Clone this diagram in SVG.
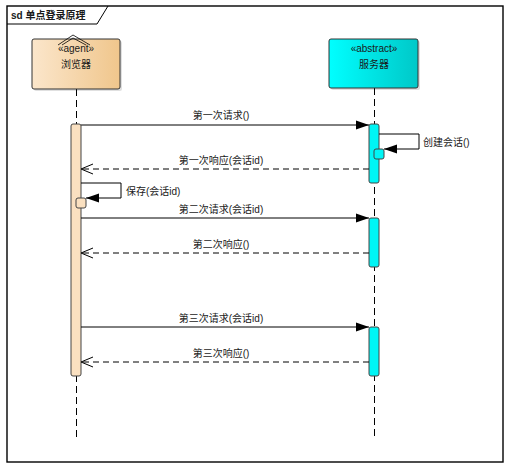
<svg xmlns="http://www.w3.org/2000/svg" width="510" height="467" viewBox="0 0 510 467">
<style>
text{font-family:"Liberation Sans","Noto Sans CJK SC",sans-serif;font-size:10px;fill:#1a1a1a}
.mid{text-anchor:middle}
.life{stroke:#000;stroke-width:1;stroke-dasharray:7,4;fill:none}
.msg{stroke:#000;stroke-width:1;fill:none}
.ret{stroke:#000;stroke-width:1;fill:none;stroke-dasharray:6,4}
.shadow{fill:#000;opacity:0.12}
</style>
<defs>
<linearGradient id="gAgent" x1="0" y1="0" x2="1" y2="0">
<stop offset="0" stop-color="#fbe6cb"/>
<stop offset="1" stop-color="#f0c68c"/>
</linearGradient>
<linearGradient id="gServer" x1="0" y1="0" x2="1" y2="0">
<stop offset="0" stop-color="#00ffff"/>
<stop offset="1" stop-color="#00c8c8"/>
</linearGradient>
<marker id="filled" markerUnits="userSpaceOnUse" markerWidth="13" markerHeight="10" refX="13" refY="5" orient="auto">
<path d="M0,0.5 L13,5 L0,9.5 z" fill="#000"/>
</marker>
<marker id="open" markerUnits="userSpaceOnUse" markerWidth="14" markerHeight="12" refX="13" refY="6" orient="auto">
<path d="M1,1 L13,6 L1,11" fill="none" stroke="#000" stroke-width="1"/>
</marker>
</defs>
<rect width="510" height="467" fill="#fff"/>
<g id="frame">
<rect x="7" y="6" width="496" height="456" fill="none" stroke="#000" stroke-width="1.4"/>
<path d="M7,24 H97 L108,6" fill="none" stroke="#000" stroke-width="1"/>
<text x="11" y="19" style="font-weight:bold">sd 单点登录原理</text>
</g>
<g id="lifelines">
<line class="life" x1="76.5" y1="89" x2="76.5" y2="437"/>
<line class="life" x1="374.5" y1="88" x2="374.5" y2="437"/>
</g>
<g id="browser">
<rect class="shadow" x="34" y="41" width="88" height="50" rx="2"/>
<rect x="32" y="39" width="88" height="50" rx="2" fill="url(#gAgent)" stroke="#333" stroke-width="1"/>
<path d="M58,45 L73,35 L90,45 M62,45 L73,38 L86,45" fill="none" stroke="#000" stroke-width="0.8"/>
<text class="mid" x="76" y="52">«agent»</text>
<text class="mid" x="76" y="68">浏览器</text>
</g>
<g id="server">
<rect class="shadow" x="331" y="41" width="89" height="49" rx="2"/>
<rect x="329" y="39" width="89" height="49" rx="2" fill="url(#gServer)" stroke="#333" stroke-width="1"/>
<text class="mid" x="374" y="52">«abstract»</text>
<text class="mid" x="374" y="68">服务器</text>
</g>
<g id="activations">
<rect x="71" y="124" width="10" height="252" rx="2" fill="#fae0c0" stroke="#444" stroke-width="1"/>
<rect x="369" y="124" width="10" height="59" rx="2" fill="#00f5f5" stroke="#444" stroke-width="1"/>
<rect x="369" y="218" width="10" height="49" rx="2" fill="#00f5f5" stroke="#444" stroke-width="1"/>
<rect x="369" y="327" width="10" height="49" rx="2" fill="#00f5f5" stroke="#444" stroke-width="1"/>
<rect x="374" y="149" width="10" height="10" rx="2" fill="#00f5f5" stroke="#444" stroke-width="1"/>
<rect x="76" y="198" width="10" height="10" rx="2" fill="#fae0c0" stroke="#444" stroke-width="1"/>
</g>
<g id="connectors">
<line class="msg" x1="81" y1="125" x2="369" y2="125" marker-end="url(#filled)"/>
<text class="mid" x="221" y="119">第一次请求()</text>
<path class="msg" d="M379,134 H419 V149 H384" marker-end="url(#filled)"/>
<text x="423" y="146">创建会话()</text>
<line class="ret" x1="369" y1="169" x2="81" y2="169" marker-end="url(#open)"/>
<text class="mid" x="221" y="164">第一次响应(会话id)</text>
<path class="msg" d="M81,183 H121 V198 H86" marker-end="url(#filled)"/>
<text x="126" y="195">保存(会话id)</text>
<line class="msg" x1="81" y1="218" x2="369" y2="218" marker-end="url(#filled)"/>
<text class="mid" x="221" y="213">第二次请求(会话id)</text>
<line class="ret" x1="369" y1="253" x2="81" y2="253" marker-end="url(#open)"/>
<text class="mid" x="221" y="248">第二次响应()</text>
<line class="msg" x1="81" y1="327" x2="369" y2="327" marker-end="url(#filled)"/>
<text class="mid" x="221" y="322">第三次请求(会话id)</text>
<line class="ret" x1="369" y1="362" x2="81" y2="362" marker-end="url(#open)"/>
<text class="mid" x="221" y="357">第三次响应()</text>
</g>
</svg>
